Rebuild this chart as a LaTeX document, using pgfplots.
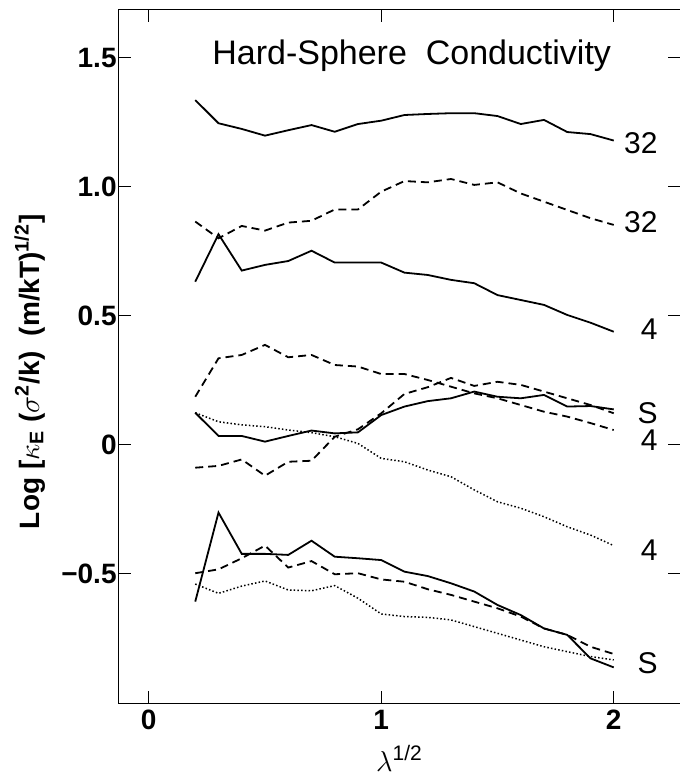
\documentclass[border=0pt]{standalone}
\usepackage{pgfplots}
\pgfplotsset{compat=1.18}
\usepackage{pgfplotstable}
\usepackage{fontspec}
\setmainfont{Liberation Sans}

% columns: a/b solid+dashed "32", c solid "4", d dashed "4",
% e dashed S, f solid S, g dotted "4", h/i/j lower S group
\pgfplotstableread{
x    a     b     c     d     e      f     g      h      i      j
0.2  1.337 0.866 0.633 0.187 -0.088 0.125  0.125 -0.607 -0.497 -0.539
0.3  1.247 0.801 0.817 0.336 -0.081 0.035  0.090 -0.262 -0.482 -0.575
0.4  1.225 0.849 0.676 0.349 -0.056 0.035  0.078 -0.422 -0.439 -0.547
0.5  1.199 0.831 0.698 0.388 -0.119 0.013  0.071 -0.422 -0.390 -0.527
0.6  1.220 0.862 0.713 0.340 -0.065 0.035  0.058 -0.426 -0.475 -0.562
0.7  1.240 0.869 0.753 0.349 -0.061 0.056  0.048 -0.371 -0.450 -0.565
0.8  1.214 0.913 0.707 0.310  0.032 0.045  0.032 -0.433 -0.501 -0.545
0.9  1.244 0.913 0.707 0.304  0.061 0.049  0.006 -0.439 -0.497 -0.594
1.0  1.257 0.982 0.707 0.275  0.123 0.116 -0.052 -0.446 -0.521 -0.655
1.1  1.279 1.023 0.668 0.275  0.198 0.149 -0.065 -0.491 -0.530 -0.665
1.2  1.283 1.018 0.659 0.252  0.224 0.170 -0.097 -0.508 -0.559 -0.668
1.3  1.286 1.031 0.640 0.226  0.260 0.181 -0.123 -0.536 -0.581 -0.678
1.4  1.286 1.008 0.627 0.200  0.229 0.207 -0.174 -0.568 -0.607 -0.704
1.5  1.275 1.018 0.581 0.181  0.245 0.187 -0.220 -0.620 -0.633 -0.730
1.6  1.244 0.975 0.562 0.155  0.233 0.181 -0.245 -0.659 -0.665 -0.756
1.7  1.260 0.943 0.543 0.129  0.207 0.194 -0.278 -0.711 -0.711 -0.782
1.8  1.213 0.911 0.504 0.110  0.181 0.149 -0.317 -0.736 -0.736 -0.801
1.9  1.205 0.879 0.474 0.085  0.155 0.151 -0.349 -0.827 -0.782 -0.820
2.0  1.180 0.853 0.439 0.058  0.123 0.138 -0.390 -0.862 -0.810 -0.833
}\curves

\tikzset{
  sol/.style={black, line width=0.9pt},
  dsh/.style={black, line width=0.9pt, dash pattern=on 4pt off 2.5pt},
  dot/.style={black, line width=0.75pt, dash pattern=on 0.75pt off 1.1pt},
  lbl/.style={anchor=base east, font=\fontsize{15}{17}\selectfont, inner sep=0pt}
}

\begin{document}
\begin{tikzpicture}
\useasboundingbox (-59.5pt,-39.5pt) rectangle (280.5pt,351.5pt);
\begin{axis}[
  at={(0,0)}, anchor=south west,
  scale only axis, width=280.5pt, height=346.5pt,
  xmin=-0.128, xmax=2.285, ymin=-1.0, ymax=1.686,
  xtick={0,1,2}, xticklabels={0,1,2},
  ytick={-0.5,0,0.5,1,1.5}, yticklabels={−0.5,0,0.5,1.0,1.5},
  tick align=inside, major tick length=6pt,
  tick style={black, line width=0.5pt},
  axis line style={black, line width=0.5pt},
  ticklabel style={font=\fontsize{14}{16}\selectfont\bfseries},
  yticklabel style={inner sep=1pt},
  xlabel={$\lambda$\textsuperscript{1/2}},
  xlabel style={at={(axis description cs:0.5,-0.08)}, anchor=center,
    font=\fontsize{15}{17}\selectfont},
  ylabel={Log\ [$\kappa$\textsubscript{E}\ ($\sigma$\textsuperscript{2}/k)\ \ (m/kT)\textsuperscript{1/2}]},
  ylabel style={at={(axis description cs:-0.159,0.478)}, anchor=center,
    font=\fontsize{14}{16}\selectfont\bfseries},
  clip=false
]
\addplot[sol] table[x=x, y=a] {\curves};
\addplot[dsh] table[x=x, y=b] {\curves};
\addplot[sol] table[x=x, y=c] {\curves};
\addplot[dsh] table[x=x, y=d] {\curves};
\addplot[dsh] table[x=x, y=e] {\curves};
\addplot[sol] table[x=x, y=f] {\curves};
\addplot[dot] table[x=x, y=g] {\curves};
\addplot[sol] table[x=x, y=h] {\curves};
\addplot[dsh] table[x=x, y=i] {\curves};
\addplot[dot] table[x=x, y=j] {\curves};

\node[anchor=base, font=\fontsize{17}{19}\selectfont] at (axis cs:1.131,1.473) {Hard-Sphere\ \ Conductivity};
\node[lbl] at (axis cs:2.19,1.128) {32};
\node[lbl] at (axis cs:2.19,0.822) {32};
\node[lbl] at (axis cs:2.19,0.407) {4};
\node[lbl] at (axis cs:2.19,0.085) {S};
\node[lbl] at (axis cs:2.19,-0.023) {4};
\node[lbl] at (axis cs:2.19,-0.446) {4};
\node[lbl] at (axis cs:2.19,-0.884) {S};
\end{axis}
\end{tikzpicture}
\end{document}
